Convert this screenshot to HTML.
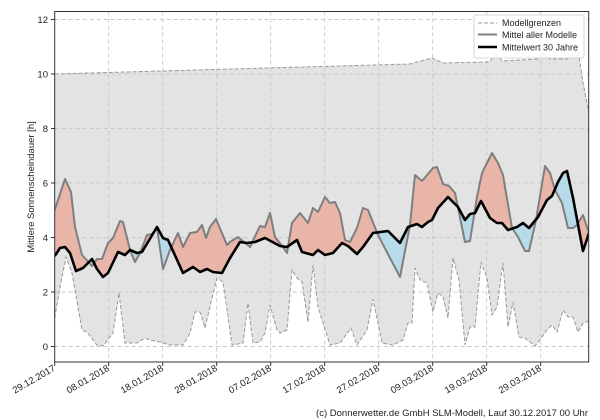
<!DOCTYPE html>
<html><head><meta charset="utf-8"><style>
body{margin:0;background:#fff;}
svg{display:block;font-family:"Liberation Sans","DejaVu Sans",sans-serif;}
</style></head><body>
<svg width="600" height="420" viewBox="0 0 600 420" xmlns="http://www.w3.org/2000/svg">
<defs>
<clipPath id="plot"><rect x="54.7" y="11.5" width="534" height="350.5"/></clipPath>
<clipPath id="above"><polygon points="0,0 54.7,0 54.7,256 60,248 65,247 70,253 76,271 83,268 92,259 97,269 103,277 108,273 118,252 125,255 130,250 137,253 142,252 157,227 163,238 168,240 183,273 193,267 200,272 207,269 213,272 222,273 230,258 240,242 247,243 255,242 265,238 280,246 287,247 297,240 302,252 313,255 318,250 325,255 333,253 342,243 348,246 357,254 363,247 373,233 388,231 400,243 408,227 417,224 422,227 428,222 432,220 438,208 448,197 458,207 465,220 470,214 475,213 481,201 490,218 497,223 502,223 508,230 517,227 523,223 529,228 538,217 547,200 552,196 558,182 563,173 567,171 573,198 583,251 589,233 600,233 600,0"/></clipPath>
<clipPath id="below"><polygon points="0,420 54.7,420 54.7,256 60,248 65,247 70,253 76,271 83,268 92,259 97,269 103,277 108,273 118,252 125,255 130,250 137,253 142,252 157,227 163,238 168,240 183,273 193,267 200,272 207,269 213,272 222,273 230,258 240,242 247,243 255,242 265,238 280,246 287,247 297,240 302,252 313,255 318,250 325,255 333,253 342,243 348,246 357,254 363,247 373,233 388,231 400,243 408,227 417,224 422,227 428,222 432,220 438,208 448,197 458,207 465,220 470,214 475,213 481,201 490,218 497,223 502,223 508,230 517,227 523,223 529,228 538,217 547,200 552,196 558,182 563,173 567,171 573,198 583,251 589,233 600,233 600,420"/></clipPath>
</defs>
<g clip-path="url(#plot)">
<!-- envelope -->
<polygon fill="#e3e3e3" points="54.7,74 410,64 432,58 443,63 490,62 495,52 502,61 538,59 542,53 550,59 567,59 578,50 583,83 589,113 589,321 583,323 578,332 573,317 568,317 563,310 557,332 552,325 547,330 542,337 535,346 525,338 519,337 513,302 508,327 503,263 497,307 492,315 487,278 481,262 475,327 470,327 465,345 459,280 453,258 448,318 443,297 438,293 433,312 427,283 420,280 415,268 412,323 408,323 403,340 393,345 382,343 373,299 367,330 357,345 351,328 340,343 330,345 318,307 313,265 308,322 302,282 297,278 292,270 287,330 280,333 277,330 270,305 265,333 260,342 253,343 248,303 243,343 233,345 232,345 223,282 217,278 212,298 205,328 200,312 195,312 190,333 183,345 170,345 160,342 150,340 145,338 137,343 125,343 119,293 113,333 103,346 97,345 87,332 82,330 72,273 66,257 60,287 54.7,318"/>
</g>
<!-- grid -->
<g stroke="#c8c8c8" stroke-width="0.9" stroke-dasharray="4,3" fill="none">
<line x1="54.7" y1="346.5" x2="589" y2="346.5"/><line x1="54.7" y1="292" x2="589" y2="292"/><line x1="54.7" y1="237.5" x2="589" y2="237.5"/><line x1="54.7" y1="183" x2="589" y2="183"/><line x1="54.7" y1="128.5" x2="589" y2="128.5"/><line x1="54.7" y1="74" x2="589" y2="74"/><line x1="54.7" y1="19.5" x2="589" y2="19.5"/>
<line x1="108.7" y1="11.5" x2="108.7" y2="362"/><line x1="162.7" y1="11.5" x2="162.7" y2="362"/><line x1="216.7" y1="11.5" x2="216.7" y2="362"/><line x1="270.7" y1="11.5" x2="270.7" y2="362"/><line x1="324.7" y1="11.5" x2="324.7" y2="362"/><line x1="378.7" y1="11.5" x2="378.7" y2="362"/><line x1="432.7" y1="11.5" x2="432.7" y2="362"/><line x1="486.7" y1="11.5" x2="486.7" y2="362"/><line x1="540.7" y1="11.5" x2="540.7" y2="362"/>
</g>
<g clip-path="url(#plot)">
<!-- envelope dashed borders -->
<polyline fill="none" stroke="#999" stroke-width="1" stroke-dasharray="4,2" points="54.7,74 410,64 432,58 443,63 490,62 495,52 502,61 538,59 542,53 550,59 567,59 578,50 583,83 589,113"/>
<polyline fill="none" stroke="#999" stroke-width="1" stroke-dasharray="4,2" points="54.7,318 60,287 66,257 72,273 82,330 87,332 97,345 103,346 113,333 119,293 125,343 137,343 145,338 150,340 160,342 170,345 183,345 190,333 195,312 200,312 205,328 212,298 217,278 223,282 232,345 233,345 243,343 248,303 253,343 260,342 265,333 270,305 277,330 280,333 287,330 292,270 297,278 302,282 308,322 313,265 318,307 330,345 340,343 351,328 357,345 367,330 373,299 382,343 393,345 403,340 408,323 412,323 415,268 420,280 427,283 433,312 438,293 443,297 448,318 453,258 459,280 465,345 470,327 475,327 481,262 487,278 492,315 497,307 503,263 508,327 513,302 519,337 525,338 535,346 542,337 547,330 552,325 557,332 563,310 568,317 573,317 578,332 583,323 589,321"/>
<!-- diff fills -->
<g id="band">
<polygon clip-path="url(#above)" fill="#e9b5a8" points="54.7,210 65,179 71,192 75,227 82,255 92,266 97,259 102,259 108,243 113,238 120,221 123,222 130,250 135,262 140,253 147,235 152,234 157,228 163,269 170,250 178,233 183,247 190,233 197,232 202,225 206,238 210,227 216,219 227,245 230,242 238,237 250,247 260,226 265,227 270,213 275,237 283,247 287,253 292,223 300,213 308,223 313,208 318,212 325,197 330,203 335,202 340,213 345,240 350,242 357,228 363,208 368,210 378,235 390,258 400,277 410,225 415,175 422,181 433,168 437,167 443,184 449,186 455,193 465,242 470,241 477,197 482,173 492,153 498,163 503,175 512,228 518,237 525,251 529,251 536,220 545,166 550,173 555,190 562,203 568,228 573,228 577,225 583,215 589,233 583,251 573,198 567,171 563,173 558,182 552,196 547,200 538,217 529,228 523,223 517,227 508,230 502,223 497,223 490,218 481,201 475,213 470,214 465,220 458,207 448,197 438,208 432,220 428,222 422,227 417,224 408,227 400,243 388,231 373,233 363,247 357,254 348,246 342,243 333,253 325,255 318,250 313,255 302,252 297,240 287,247 280,246 265,238 255,242 247,243 240,242 230,258 222,273 213,272 207,269 200,272 193,267 183,273 168,240 163,238 157,227 142,252 137,253 130,250 125,255 118,252 108,273 103,277 97,269 92,259 83,268 76,271 70,253 65,247 60,248 54.7,256"/>
</g>
<polygon clip-path="url(#below)" fill="#b7dbe8" points="54.7,210 65,179 71,192 75,227 82,255 92,266 97,259 102,259 108,243 113,238 120,221 123,222 130,250 135,262 140,253 147,235 152,234 157,228 163,269 170,250 178,233 183,247 190,233 197,232 202,225 206,238 210,227 216,219 227,245 230,242 238,237 250,247 260,226 265,227 270,213 275,237 283,247 287,253 292,223 300,213 308,223 313,208 318,212 325,197 330,203 335,202 340,213 345,240 350,242 357,228 363,208 368,210 378,235 390,258 400,277 410,225 415,175 422,181 433,168 437,167 443,184 449,186 455,193 465,242 470,241 477,197 482,173 492,153 498,163 503,175 512,228 518,237 525,251 529,251 536,220 545,166 550,173 555,190 562,203 568,228 573,228 577,225 583,215 589,233 583,251 573,198 567,171 563,173 558,182 552,196 547,200 538,217 529,228 523,223 517,227 508,230 502,223 497,223 490,218 481,201 475,213 470,214 465,220 458,207 448,197 438,208 432,220 428,222 422,227 417,224 408,227 400,243 388,231 373,233 363,247 357,254 348,246 342,243 333,253 325,255 318,250 313,255 302,252 297,240 287,247 280,246 265,238 255,242 247,243 240,242 230,258 222,273 213,272 207,269 200,272 193,267 183,273 168,240 163,238 157,227 142,252 137,253 130,250 125,255 118,252 108,273 103,277 97,269 92,259 83,268 76,271 70,253 65,247 60,248 54.7,256"/>
<!-- model mean -->
<polyline fill="none" stroke="#7f7f7f" stroke-width="2" stroke-linejoin="round" points="54.7,210 65,179 71,192 75,227 82,255 92,266 97,259 102,259 108,243 113,238 120,221 123,222 130,250 135,262 140,253 147,235 152,234 157,228 163,269 170,250 178,233 183,247 190,233 197,232 202,225 206,238 210,227 216,219 227,245 230,242 238,237 250,247 260,226 265,227 270,213 275,237 283,247 287,253 292,223 300,213 308,223 313,208 318,212 325,197 330,203 335,202 340,213 345,240 350,242 357,228 363,208 368,210 378,235 390,258 400,277 410,225 415,175 422,181 433,168 437,167 443,184 449,186 455,193 465,242 470,241 477,197 482,173 492,153 498,163 503,175 512,228 518,237 525,251 529,251 536,220 545,166 550,173 555,190 562,203 568,228 573,228 577,225 583,215 589,233"/>
<!-- 30yr -->
<polyline fill="none" stroke="#000" stroke-width="2.6" stroke-linejoin="round" points="54.7,256 60,248 65,247 70,253 76,271 83,268 92,259 97,269 103,277 108,273 118,252 125,255 130,250 137,253 142,252 157,227 163,238 168,240 183,273 193,267 200,272 207,269 213,272 222,273 230,258 240,242 247,243 255,242 265,238 280,246 287,247 297,240 302,252 313,255 318,250 325,255 333,253 342,243 348,246 357,254 363,247 373,233 388,231 400,243 408,227 417,224 422,227 428,222 432,220 438,208 448,197 458,207 465,220 470,214 475,213 481,201 490,218 497,223 502,223 508,230 517,227 523,223 529,228 538,217 547,200 552,196 558,182 563,173 567,171 573,198 583,251 589,233"/>
</g>
<!-- axes frame -->
<rect x="54.7" y="11.5" width="534" height="350.5" fill="none" stroke="#333" stroke-width="1"/>
<!-- y ticks -->
<g stroke="#333" stroke-width="1">
<line x1="51" y1="346.5" x2="54.7" y2="346.5"/><line x1="51" y1="292" x2="54.7" y2="292"/><line x1="51" y1="237.5" x2="54.7" y2="237.5"/><line x1="51" y1="183" x2="54.7" y2="183"/><line x1="51" y1="128.5" x2="54.7" y2="128.5"/><line x1="51" y1="74" x2="54.7" y2="74"/><line x1="51" y1="19.5" x2="54.7" y2="19.5"/>
<line x1="54.7" y1="362" x2="54.7" y2="366"/><line x1="108.7" y1="362" x2="108.7" y2="366"/><line x1="162.7" y1="362" x2="162.7" y2="366"/><line x1="216.7" y1="362" x2="216.7" y2="366"/><line x1="270.7" y1="362" x2="270.7" y2="366"/><line x1="324.7" y1="362" x2="324.7" y2="366"/><line x1="378.7" y1="362" x2="378.7" y2="366"/><line x1="432.7" y1="362" x2="432.7" y2="366"/><line x1="486.7" y1="362" x2="486.7" y2="366"/><line x1="540.7" y1="362" x2="540.7" y2="366"/>
</g>
<g font-size="9.5" fill="#222" text-anchor="end">
<text x="48" y="350">0</text><text x="48" y="295.5">2</text><text x="48" y="241">4</text><text x="48" y="186.5">6</text><text x="48" y="132">8</text><text x="48" y="77.5">10</text><text x="48" y="23">12</text>
</g>
<text transform="translate(34,187) rotate(-90)" font-size="9.5" fill="#222" text-anchor="middle">Mittlere Sonnenscheindauer [h]</text>
<g font-size="9.5" fill="#222" text-anchor="end">
<text transform="translate(56,370) rotate(-30)">29.12.2017</text>
<text transform="translate(110,370) rotate(-30)">08.01.2018</text>
<text transform="translate(164,370) rotate(-30)">18.01.2018</text>
<text transform="translate(218,370) rotate(-30)">28.01.2018</text>
<text transform="translate(272,370) rotate(-30)">07.02.2018</text>
<text transform="translate(326,370) rotate(-30)">17.02.2018</text>
<text transform="translate(380,370) rotate(-30)">27.02.2018</text>
<text transform="translate(434,370) rotate(-30)">09.03.2018</text>
<text transform="translate(488,370) rotate(-30)">19.03.2018</text>
<text transform="translate(542,370) rotate(-30)">29.03.2018</text>
</g>
<text x="588" y="416" font-size="9.5" fill="#222" text-anchor="end">(c) Donnerwetter.de GmbH SLM-Modell, Lauf 30.12.2017 00 Uhr</text>
<!-- legend -->
<rect x="474" y="15" width="110" height="43" rx="2" fill="#fff" fill-opacity="0.85" stroke="#ccc" stroke-width="0.8"/>
<line x1="478" y1="23" x2="497" y2="23" stroke="#999" stroke-width="1" stroke-dasharray="4,2"/>
<line x1="478" y1="34.5" x2="497" y2="34.5" stroke="#7f7f7f" stroke-width="2"/>
<line x1="478" y1="47" x2="497" y2="47" stroke="#000" stroke-width="2.6"/>
<g font-size="9" fill="#222">
<text x="502" y="26">Modellgrenzen</text>
<text x="502" y="38">Mittel aller Modelle</text>
<text x="502" y="50.5">Mittelwert 30 Jahre</text>
</g>
</svg>
</body></html>
